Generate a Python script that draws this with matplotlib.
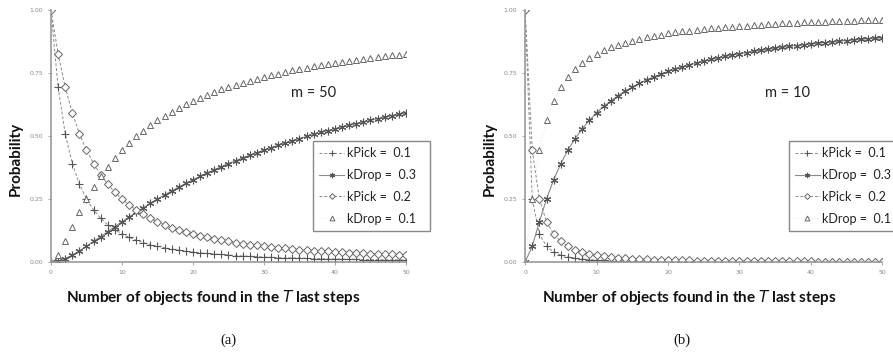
import matplotlib
matplotlib.use("Agg")
import matplotlib.pyplot as plt

x = list(range(51))

# panel (a): m = 50
a_pick01 = [1.0, 0.694, 0.510, 0.391, 0.309, 0.250, 0.207, 0.174, 0.148, 0.128, 0.111,
            0.098, 0.087, 0.077, 0.069, 0.0625, 0.057, 0.052, 0.047, 0.043, 0.040,
            0.037, 0.034, 0.032, 0.030, 0.028, 0.026, 0.024, 0.023, 0.022, 0.020,
            0.019, 0.018, 0.017, 0.016, 0.016, 0.015, 0.014, 0.0135, 0.013, 0.012,
            0.012, 0.011, 0.011, 0.010, 0.010, 0.0096, 0.0092, 0.0089, 0.0086, 0.0083]
a_drop03 = [0.0, 0.0039, 0.0138, 0.0278, 0.0443, 0.0625, 0.0816, 0.1012, 0.1210, 0.1406, 0.160,
            0.179, 0.1975, 0.2156, 0.2331, 0.250, 0.2664, 0.2822, 0.2975, 0.3123, 0.3265,
            0.3403, 0.3535, 0.3663, 0.3787, 0.3906, 0.4021, 0.4133, 0.4240, 0.4344, 0.4444,
            0.4542, 0.4636, 0.4727, 0.4815, 0.490, 0.4983, 0.5063, 0.5141, 0.5216, 0.5289,
            0.5360, 0.5429, 0.5497, 0.5562, 0.5625, 0.5687, 0.5747, 0.5805, 0.5862, 0.5917]
a_pick02 = [1.0, 0.826, 0.694, 0.592, 0.510, 0.444, 0.391, 0.346, 0.309, 0.277, 0.250,
            0.227, 0.207, 0.189, 0.174, 0.160, 0.148, 0.137, 0.128, 0.119, 0.111,
            0.104, 0.098, 0.092, 0.087, 0.082, 0.077, 0.073, 0.069, 0.066, 0.0625,
            0.059, 0.057, 0.054, 0.052, 0.049, 0.047, 0.045, 0.043, 0.042, 0.040,
            0.038, 0.037, 0.036, 0.034, 0.033, 0.032, 0.031, 0.030, 0.029, 0.028]
a_drop01 = [0.0, 0.0278, 0.0816, 0.1406, 0.1975, 0.250, 0.2975, 0.3403, 0.3787, 0.4133, 0.4444,
            0.4727, 0.4983, 0.5216, 0.5429, 0.5625, 0.5805, 0.5971, 0.6125, 0.6267, 0.640,
            0.6524, 0.6639, 0.6747, 0.6849, 0.6944, 0.7034, 0.7119, 0.7199, 0.7275, 0.7347,
            0.7415, 0.7480, 0.7542, 0.7601, 0.7656, 0.7710, 0.7761, 0.7810, 0.7857, 0.7901,
            0.7944, 0.7986, 0.8025, 0.8063, 0.810, 0.8135, 0.8170, 0.8202, 0.8234, 0.8264]

# panel (b): m = 10
b_pick01 = [1.0, 0.25, 0.111, 0.0625, 0.040, 0.0278, 0.0204, 0.0156, 0.0123, 0.010, 0.0083,
            0.0069, 0.0059, 0.0051, 0.0044, 0.0039, 0.0035, 0.0031, 0.0028, 0.0025, 0.0023,
            0.0021, 0.0019, 0.0017, 0.0016, 0.0015, 0.0014, 0.0013, 0.0012, 0.0011, 0.0010,
            0.00098, 0.00092, 0.00087, 0.00082, 0.00077, 0.00073, 0.00069, 0.00066, 0.00063, 0.00059,
            0.00057, 0.00054, 0.00052, 0.00049, 0.00047, 0.00045, 0.00043, 0.00042, 0.0004, 0.00038]
b_drop03 = [0.0, 0.0625, 0.160, 0.250, 0.3265, 0.3906, 0.4444, 0.490, 0.5289, 0.5625, 0.5917,
            0.6173, 0.640, 0.6602, 0.6782, 0.6944, 0.7091, 0.7225, 0.7347, 0.7459, 0.7561,
            0.7656, 0.7744, 0.7825, 0.7901, 0.7972, 0.8038, 0.810, 0.8158, 0.8213, 0.8264,
            0.8313, 0.8359, 0.8403, 0.8444, 0.8483, 0.8521, 0.8556, 0.8590, 0.8622, 0.8653,
            0.8683, 0.8711, 0.8738, 0.8764, 0.8789, 0.8813, 0.8836, 0.8858, 0.8879, 0.8900]
b_pick02 = [1.0, 0.444, 0.250, 0.160, 0.111, 0.0816, 0.0625, 0.0494, 0.040, 0.0331, 0.0278,
            0.0237, 0.0204, 0.0178, 0.0156, 0.0138, 0.0123, 0.0111, 0.010, 0.0091, 0.0083,
            0.0076, 0.0069, 0.0064, 0.0059, 0.0055, 0.0051, 0.0048, 0.0044, 0.0042, 0.0039,
            0.0037, 0.0035, 0.0033, 0.0031, 0.0029, 0.0028, 0.0026, 0.0025, 0.0024, 0.0023,
            0.0022, 0.0021, 0.0020, 0.0019, 0.0018, 0.0017, 0.0017, 0.0016, 0.0015, 0.0015]
b_drop01 = [0.0, 0.250, 0.4444, 0.5625, 0.640, 0.6944, 0.7347, 0.7656, 0.7901, 0.810, 0.8264,
            0.8403, 0.8521, 0.8622, 0.8711, 0.8789, 0.8858, 0.8920, 0.8975, 0.9025, 0.9070,
            0.9112, 0.9149, 0.9184, 0.9216, 0.9246, 0.9273, 0.9298, 0.9322, 0.9344, 0.9365,
            0.9385, 0.9403, 0.9420, 0.9437, 0.9452, 0.9467, 0.9481, 0.9494, 0.9506, 0.9518,
            0.9530, 0.9540, 0.9551, 0.9560, 0.9570, 0.9579, 0.9587, 0.9596, 0.9604, 0.9612]

series_labels = ["kPick =  0.1", "kDrop =  0.3", "kPick =  0.2", "kDrop =  0.1"]
y_ticks = [0.0, 0.25, 0.5, 0.75, 1.0]
y_ticklabels = ["0.00", "0.25", "0.50", "0.75", "1.00"]
x_ticks = [0, 10, 20, 30, 40, 50]
panel_titles = ["m = 50", "m = 10"]
panel_letters = ["(a)", "(b)"]

fig = plt.figure(figsize=(8.93, 3.58), dpi=100)
axes_rects = [[0.0571, 0.268, 0.3975, 0.704], [0.588, 0.268, 0.400, 0.704]]
panels = [(a_pick01, a_drop03, a_pick02, a_drop01), (b_pick01, b_drop03, b_pick02, b_drop01)]
letter_x = [0.499, 0.44]
title_x = [0.74, 0.735]

lc = "#8a8a8a"
mc = "#555555"
for i, (rect, data) in enumerate(zip(axes_rects, panels)):
    ax = fig.add_axes(rect)
    p01, d03, p02, d01 = data
    ax.plot(x, p01, linestyle=(0, (3, 2)), color=lc, lw=0.7, marker="+", ms=5.5,
            mec=mc, mew=0.8, label=series_labels[0])
    ax.plot(x, d03, linestyle="-", color=lc, lw=0.8, marker=(6, 2, 0), ms=5.5,
            mec=mc, mew=0.8, label=series_labels[1])
    ax.plot(x, p02, linestyle=(0, (3, 2)), color=lc, lw=0.7, marker="D", ms=4.2,
            mfc="white", mec="#666666", mew=0.7, label=series_labels[2])
    ax.plot(x, d01, linestyle=(0, (1, 3)), color="#cccccc", lw=0.5, marker="^", ms=5,
            mfc="white", mec="#666666", mew=0.7, label=series_labels[3])
    ax.set_xlim(0, 50)
    ax.set_ylim(0, 1.0)
    ax.set_xticks(x_ticks)
    ax.set_yticks(y_ticks)
    ax.set_yticklabels(y_ticklabels)
    for s in ["top", "right"]:
        ax.spines[s].set_visible(False)
    for s in ["left", "bottom"]:
        ax.spines[s].set_color("#999999")
        ax.spines[s].set_linewidth(1.2)
    ax.tick_params(axis="both", labelsize=4.5, colors="#999999", labelcolor="#888888",
                   length=2.5, width=0.6, pad=3)
    ax.set_xlabel("Number of objects found in the $\\mathbf{\\mathit{T}}$ last steps",
                  fontsize=11, fontweight="bold", family="Lato", color="#111111")
    ax.xaxis.set_label_coords(0.458, -0.139)
    ax.xaxis.label.set_va("center")
    ax.set_ylabel("Probability", fontsize=11, fontweight="bold", family="Lato",
                  color="#111111")
    ax.yaxis.set_label_coords(-0.079, 0.41)
    ax.text(title_x[i], 0.67, panel_titles[i], transform=ax.transAxes, fontsize=10.5,
            family="Lato", ha="center", va="center", color="#222222")
    leg = ax.legend(loc="upper left", bbox_to_anchor=(0.738, 0.1, 0.33, 0.38),
                    mode="expand", frameon=True, fancybox=False, edgecolor="#888888",
                    framealpha=1, handlelength=2.0, handletextpad=0.2, labelspacing=0.78,
                    borderpad=0.5, borderaxespad=0, markerscale=0.7,
                    prop={"family": "Lato", "size": 9})
    leg.get_frame().set_linewidth(1.0)
    for t in leg.get_texts():
        t.set_color("#222222")
    ax.text(letter_x[i], -0.31, panel_letters[i], transform=ax.transAxes, fontsize=10.5,
            family="Liberation Serif", ha="center", va="center", color="#111111")

fig.savefig("out.png", dpi=100)
